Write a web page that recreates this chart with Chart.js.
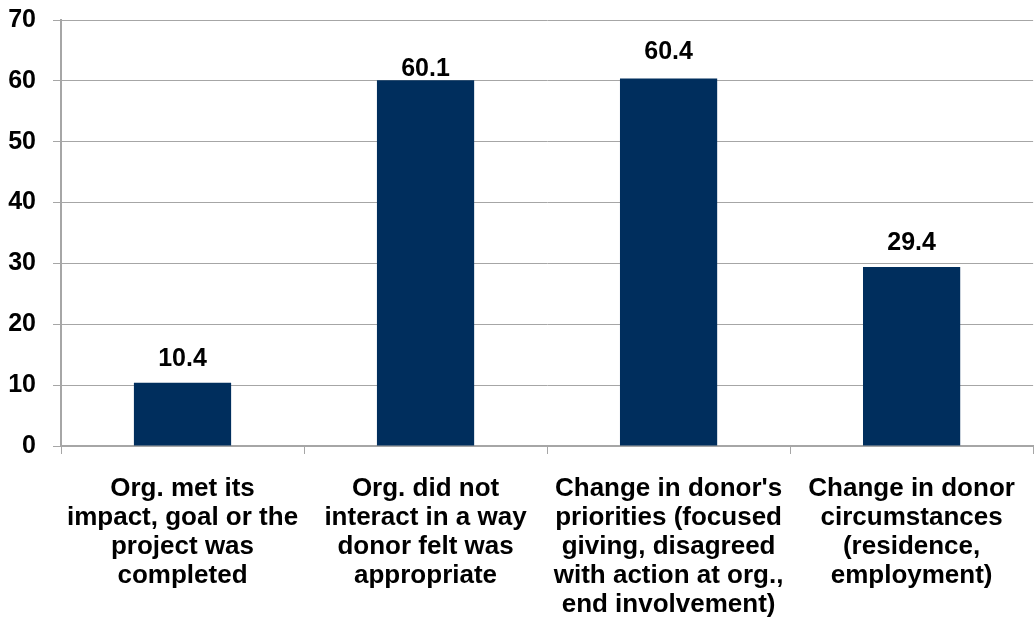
<!DOCTYPE html>
<html>
<head>
<meta charset="utf-8">
<script src="https://cdn.jsdelivr.net/npm/chart.js@4/dist/chart.umd.min.js"></script>
<style>
  html, body { margin: 0; padding: 0; background: #fff; }
  #wrap { width: 1035px; height: 624px; }
</style>
</head>
<body>
<div id="wrap"><canvas id="chart" width="1035" height="624"></canvas></div>
<script>
// Data
const categories = [
  ['Org. met its', 'impact, goal or the', 'project was', 'completed'],
  ['Org. did not', 'interact in a way', 'donor felt was', 'appropriate'],
  ["Change in donor's", 'priorities (focused', 'giving, disagreed', 'with action at org.,', 'end involvement)'],
  ['Change in donor', 'circumstances', '(residence,', 'employment)']
];
const values = [10.4, 60.1, 60.4, 29.4];
const yTicks = [0, 10, 20, 30, 40, 50, 60, 70];

const FONT = "'Liberation Sans', Arial, sans-serif";
const gridColor = '#a6a6a6';

// value labels above the bars (the 60.1 label sits lower in the original)
const barLabels = {
  id: 'barLabels',
  afterDatasetsDraw(chart) {
    const ctx = chart.ctx;
    const meta = chart.getDatasetMeta(0);
    const gaps = [17, 4, 19, 17];
    ctx.save();
    ctx.font = 'bold 25px ' + FONT;
    ctx.fillStyle = '#000';
    ctx.textAlign = 'center';
    ctx.textBaseline = 'alphabetic';
    meta.data.forEach((bar, i) => {
      ctx.fillText(values[i].toFixed(1), bar.x, bar.y - gaps[i]);
    });
    ctx.restore();
  }
};

new Chart(document.getElementById('chart'), {
  type: 'bar',
  data: {
    labels: categories,
    datasets: [{
      data: values,
      backgroundColor: '#002E5D',
      barPercentage: 0.4,
      categoryPercentage: 1.0
    }]
  },
  plugins: [barLabels],
  options: {
    responsive: false,
    animation: false,
    layout: { padding: { top: 20, right: 1, left: 0, bottom: 0 } },
    plugins: {
      legend: { display: false },
      tooltip: { enabled: false }
    },
    scales: {
      y: {
        min: 0,
        max: 70,
        afterBuildTicks: (scale) => { scale.ticks = yTicks.map(v => ({ value: v })); },
        afterFit: (scale) => {
          scale.width = 61;
          scale.paddingTop = 0;
          scale.paddingBottom = 0;
        },
        grid: { color: gridColor, lineWidth: 1, tickLength: 8 },
        border: { color: gridColor, width: 2 },
        ticks: {
          color: '#000',
          padding: 17,
          font: { family: FONT, size: 25, weight: 'bold' }
        }
      },
      x: {
        afterFit: (scale) => { scale.height = 178; },
        grid: { drawOnChartArea: false, drawTicks: true, tickLength: 8, color: gridColor, offset: true },
        border: { color: gridColor, width: 2 },
        ticks: {
          color: '#000',
          padding: 20,
          maxRotation: 0,
          autoSkip: false,
          font: { family: FONT, size: 26, weight: 'bold', lineHeight: 1.115 }
        }
      }
    }
  }
});
</script>
</body>
</html>
